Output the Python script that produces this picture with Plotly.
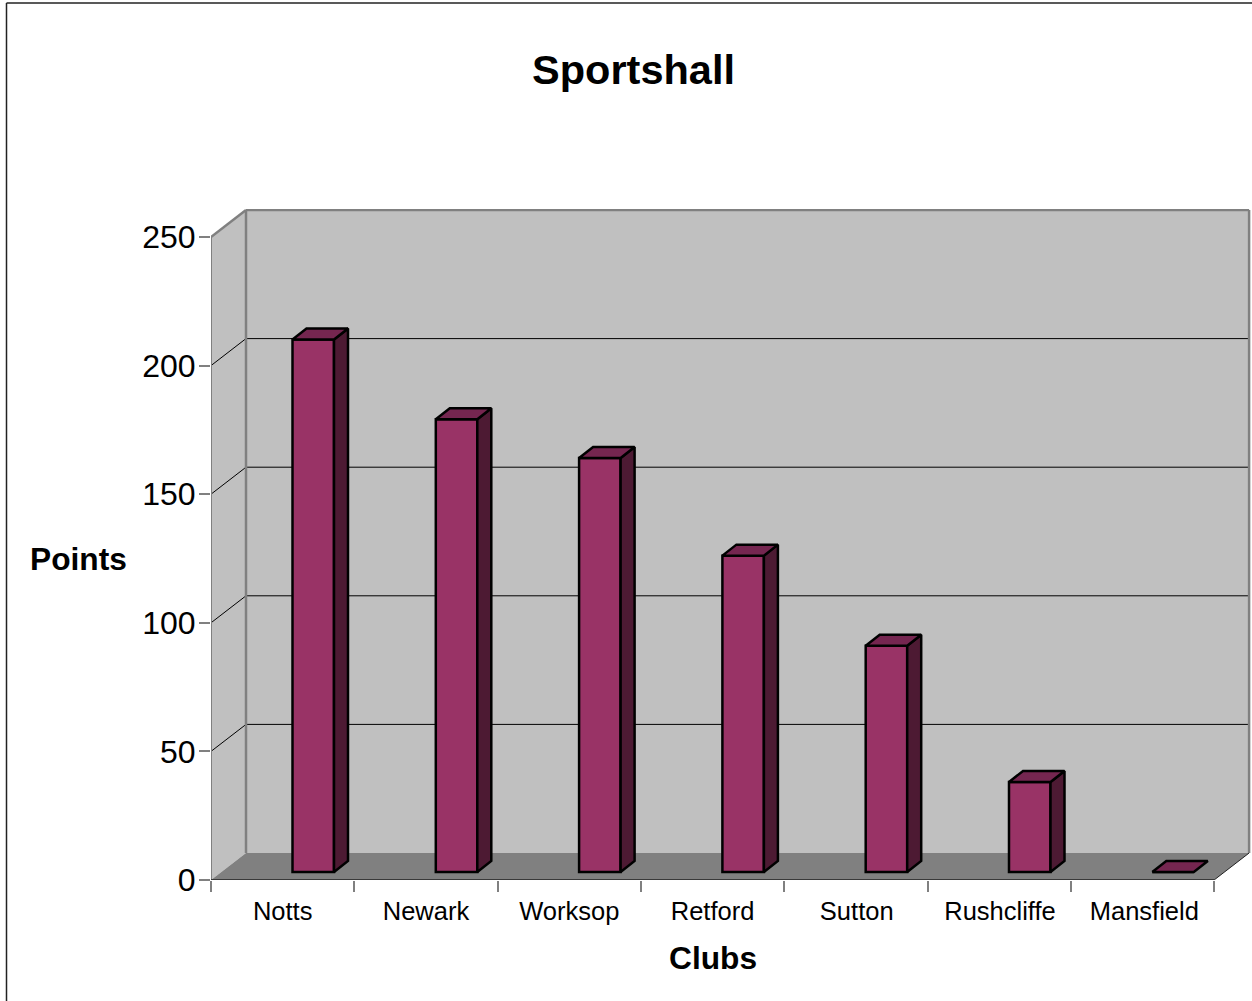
import plotly.graph_objects as go

clubs = ["Notts", "Newark", "Worksop", "Retford", "Sutton", "Rushcliffe", "Mansfield"]
points = [207, 176, 161, 123, 88, 35, 0]
y_ticks = [0, 50, 100, 150, 200, 250]

W, H = 1252, 1001
CAT_PX = 143.3
VAL_PX = 2.572
L, R, T, B = 211, 1251, 209, 880

n = len(clubs)
wall_dx = 35 / CAT_PX
wall_dy = 27 / VAL_PX
bar_left = 81.5 / CAT_PX
bar_w = 41.5 / CAT_PX
bar_base = 8 / VAL_PX
depth_dx = 14 / CAT_PX
depth_dy = 11 / VAL_PX
top_val = y_ticks[-1]
label_nudge = [0, 0, 0, 0, 0.006, 0.006, 0.013]

GREY = "#808080"
WALL = "#C0C0C0"
FRONT = "#993366"
TOP = "#752650"
SIDE = "#4D1A33"
FONT = "Liberation Sans, Arial, sans-serif"

plot_w, plot_h = R - L, B - T


def px_x(px):
    return (px - L) / plot_w


def px_y(py):
    return (B - py) / plot_h


def poly(pts, fill):
    path = "M " + " L ".join(f"{x},{y}" for x, y in pts) + " Z"
    return dict(type="path", path=path, xref="x", yref="y", layer="below",
                fillcolor=fill, line=dict(color=fill, width=0))


def seg(x0, y0, x1, y1, color, width=1):
    return dict(type="line", x0=x0, y0=y0, x1=x1, y1=y1, xref="x", yref="y",
                layer="below", line=dict(color=color, width=width))


def frame_line(x0, y0, x1, y1):
    return dict(type="line", x0=px_x(x0), y0=px_y(y0), x1=px_x(x1), y1=px_y(y1),
                xref="paper", yref="paper", layer="above",
                line=dict(color="#222222", width=1.5))


shapes = [
    poly([(0, 0), (0, top_val), (wall_dx, top_val + wall_dy), (wall_dx, wall_dy)], WALL),
    poly([(wall_dx, wall_dy), (wall_dx, top_val + wall_dy), (n + wall_dx, top_val + wall_dy), (n + wall_dx, wall_dy)], WALL),
    poly([(0, 0), (wall_dx, wall_dy), (n + wall_dx, wall_dy), (n, 0)], GREY),
]
for v in y_ticks[1:-1]:
    shapes.append(seg(0, v, wall_dx, v + wall_dy, "#000000", 1))
    shapes.append(seg(wall_dx, v + wall_dy, n + wall_dx, v + wall_dy, "#000000", 1))
shapes += [
    seg(0, top_val, wall_dx, top_val + wall_dy, GREY, 2.5),
    seg(wall_dx, top_val + wall_dy, n + wall_dx, top_val + wall_dy, GREY, 2.5),
    seg(wall_dx, wall_dy, wall_dx, top_val + wall_dy, GREY, 2.5),
    seg(n + wall_dx, wall_dy, n + wall_dx, top_val + wall_dy, GREY, 2.5),
    seg(0, 0, 0, top_val, GREY, 2),
    seg(0, 0, n, 0, "#222222", 1.5),
    seg(n, 0, n + wall_dx, wall_dy, "#222222", 1),
    frame_line(6.5, 3, W + 5, 3),
    frame_line(6.5, 3, 6.5, H + 5),
]

top_x, top_y, side_x, side_y = [], [], [], []
for i, v in enumerate(points):
    x0 = i + bar_left
    x1 = x0 + bar_w
    y1 = bar_base + v
    top_x += [x0, x0 + depth_dx, x1 + depth_dx, x1, x0, None]
    top_y += [y1, y1 + depth_dy, y1 + depth_dy, y1, y1, None]
    if v > 0:
        side_x += [x1, x1 + depth_dx, x1 + depth_dx, x1, x1, None]
        side_y += [bar_base, bar_base + depth_dy, y1 + depth_dy, y1, bar_base, None]

fig = go.Figure()
fig.add_trace(go.Bar(
    x=[i + bar_left + bar_w / 2 for i in range(n)],
    y=points,
    base=bar_base,
    width=bar_w,
    customdata=clubs,
    marker=dict(color=FRONT, line=dict(color="#000000", width=2.5)),
    showlegend=False,
))
fig.add_trace(go.Scatter(x=side_x, y=side_y, mode="lines", fill="toself", fillcolor=SIDE,
                         line=dict(color="#000000", width=2.5), showlegend=False))
fig.add_trace(go.Scatter(x=top_x, y=top_y, mode="lines", fill="toself", fillcolor=TOP,
                         line=dict(color="#000000", width=2.5), showlegend=False))

fig.update_layout(
    width=W, height=H,
    margin=dict(l=L, r=W - R, t=T, b=H - B, pad=0),
    paper_bgcolor="#FFFFFF", plot_bgcolor="rgba(0,0,0,0)",
    font=dict(family=FONT, color="#000000"),
    title=dict(text="<b>Sportshall</b>", x=633.5 / W, y=1 - 69 / H, xanchor="center", yanchor="middle",
               xref="container", yref="container", font=dict(size=41.5, family=FONT, color="#000000")),
    xaxis=dict(range=[0, (R - L) / CAT_PX], showgrid=False, zeroline=False, showline=False,
               tickmode="array", tickvals=[i + 0.5 + label_nudge[i] for i in range(n)], ticktext=clubs,
               ticks="outside", ticklen=8, tickcolor="rgba(0,0,0,0)",
               tickfont=dict(size=25.5, family=FONT, color="#000000"), tickangle=0,
               minor=dict(tickmode="array", tickvals=list(range(n + 1)), ticks="outside",
                          ticklen=11, tickcolor=GREY, tickwidth=1.5)),
    yaxis=dict(range=[0, (B - T) / VAL_PX], showgrid=False, zeroline=False, showline=False,
               tickmode="array", tickvals=y_ticks, ticks="outside", ticklen=11, tickcolor=GREY, tickwidth=2,
               ticklabelstandoff=-3,
               tickfont=dict(size=32, family=FONT, color="#000000")),
    shapes=shapes,
    annotations=[
        dict(text="<b>Points</b>", xref="paper", yref="paper", x=px_x(78), y=px_y(559),
             xanchor="center", yanchor="middle", showarrow=False, font=dict(size=31.7, family=FONT, color="#000000")),
        dict(text="<b>Clubs</b>", xref="paper", yref="paper", x=px_x(713), y=px_y(958),
             xanchor="center", yanchor="middle", showarrow=False, font=dict(size=31.7, family=FONT, color="#000000")),
    ],
)

fig.write_html("out.html", config={"displayModeBar": False},
               post_script="document.body.style.margin='0';document.body.style.overflow='hidden';")
